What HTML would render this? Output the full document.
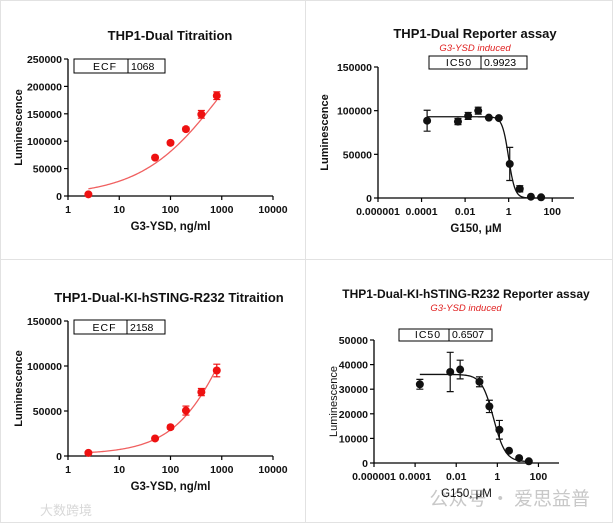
<!DOCTYPE html>
<html><head><meta charset="utf-8"><style>
html,body{margin:0;padding:0;background:#fff;}
svg{display:block;font-family:"Liberation Sans",Arial,sans-serif;}
</style></head><body>
<svg id="fig" width="613" height="523" viewBox="0 0 613 523" xmlns="http://www.w3.org/2000/svg">
<rect x="0.5" y="0.5" width="612" height="522" fill="#fff" stroke="#e2e2e2"/>
<line x1="305.5" y1="0" x2="305.5" y2="523" stroke="#e2e2e2"/>
<line x1="0" y1="259.5" x2="613" y2="259.5" stroke="#e2e2e2"/>
<text x="590" y="505" font-size="19" fill="#c8c8c8" text-anchor="end" font-family="'Noto Sans CJK SC',sans-serif">公众号 · 爱思益普</text>
<text x="40" y="515" font-size="13" fill="#d8d8d8" font-family="'Noto Sans CJK SC',sans-serif">大数跨境</text>
</svg>
<script>
// Panel 1: THP1-Dual Titraition
const p1X = [2.5, 50, 100, 200, 400, 800];
const p1Y = [3000, 70000, 97000, 122000, 149000, 183000];
const p1Err = [1500, 3000, 3000, 3500, 7000, 7000];
const p1Ticks = [0, 50000, 100000, 150000, 200000, 250000];
const p1XTicks = [1, 10, 100, 1000, 10000];
// Panel 2: THP1-Dual Reporter assay
const p2X = [0.00018, 0.0047, 0.0138, 0.04, 0.123, 0.355, 1.12, 3.24, 10.5, 30.9];
const p2Y = [88500, 87500, 94000, 100000, 92000, 91500, 39000, 10500, 1500, 800];
const p2Err = [12000, 3500, 4000, 4000, 1000, 1000, 19000, 3500, 500, 300];
const p2Ticks = [0, 50000, 100000, 150000];
const p2XTicks = [0.000001, 0.0001, 0.01, 1, 100];
// Panel 3: THP1-Dual-KI-hSTING-R232 Titraition
const p3X = [2.5, 50, 100, 200, 400, 800];
const p3Y = [3500, 19500, 32000, 50500, 71000, 95000];
const p3Err = [1000, 1500, 2000, 5000, 4000, 7000];
const p3Ticks = [0, 50000, 100000, 150000];
// Panel 4: THP1-Dual-KI-hSTING-R232 Reporter assay
const p4X = [0.00017, 0.0051, 0.0155, 0.135, 0.41, 1.26, 3.7, 11.5, 34];
const p4Y = [32000, 37000, 38000, 33000, 23000, 13500, 5000, 2000, 700];
const p4Err = [2000, 8000, 3800, 2000, 2500, 3800, 500, 300, 200];
const p4Ticks = [0, 10000, 20000, 30000, 40000, 50000];

const NS = 'http://www.w3.org/2000/svg';
const svg = document.getElementById('fig');
function mk(tag, attrs, parent, txt){
  const e = document.createElementNS(NS, tag);
  for (const k in attrs) e.setAttribute(k, attrs[k]);
  if (txt !== undefined) e.textContent = txt;
  (parent || svg).appendChild(e);
  return e;
}
function fmtX(v){
  if (v >= 1) return String(v);
  return v.toFixed(Math.round(-Math.log10(v)));
}
function panel(cfg){
  const g = mk('g', {});
  
  
  const xs = v => cfg.x0 + (Math.log10(v) - cfg.lmin) / (cfg.lmax - cfg.lmin) * (cfg.x1 - cfg.x0);
  const ys = v => cfg.yb - v / cfg.ymax * (cfg.yb - cfg.yt);
  const t = mk('text', {x: cfg.tx, y: cfg.ty, 'font-size': cfg.tfs || 13, 'font-weight': 'bold', 'text-anchor': 'middle', fill: '#111'}, g, cfg.title);
  
  
  if (cfg.sub){
    const s = mk('text', {x: cfg.tx, y: cfg.ty + 13, 'font-size': 9.5, 'font-style': 'italic', 'text-anchor': 'middle', fill: '#e02020'}, g, cfg.sub);
    
    
  }
  const ax = mk('path', {d: `M${cfg.x0},${cfg.yt}V${cfg.yb}H${cfg.x1}`, stroke: '#000', 'stroke-width': 1.3, fill: 'none'}, g);
  
  
  cfg.yticks.forEach(v => {
    const y = ys(v);
    mk('line', {x1: cfg.x0 - 4, x2: cfg.x0, y1: y, y2: y, stroke: '#000', 'stroke-width': 1.2}, g);
    const l = mk('text', {x: cfg.x0 - 6, y: y + 4, 'font-size': 10.5, 'font-weight': 'bold', 'text-anchor': 'end', fill: '#111'}, g, String(v));
    
    
  });
  cfg.xticks.forEach(v => {
    const x = xs(v);
    mk('line', {x1: x, x2: x, y1: cfg.yb, y2: cfg.yb + 4, stroke: '#000', 'stroke-width': 1.2}, g);
    const l = mk('text', {x: x, y: cfg.yb + 17, 'font-size': 10.5, 'font-weight': 'bold', 'text-anchor': 'middle', fill: '#111'}, g, fmtX(v));
    
    
  });
  const xl = mk('text', {x: (cfg.x0 + cfg.x1) / 2, y: cfg.yb + 34, 'font-size': 11.5, 'font-weight': cfg.xlw || 'bold', 'text-anchor': 'middle', fill: '#111'}, g, cfg.xlabel);
  
  
  const ym = (cfg.yt + cfg.yb) / 2;
  const yl = mk('text', {x: cfg.ylx, y: ym, 'font-size': 11, 'font-weight': cfg.ylw || 'bold', 'text-anchor': 'middle', fill: '#111', transform: `rotate(-90 ${cfg.ylx} ${ym})`}, g, 'Luminescence');
  
  
  const b = cfg.box;
  const bx = mk('rect', {x: b.x, y: b.y, width: b.w, height: b.h, fill: '#fff', stroke: '#000', 'stroke-width': 1}, g);
  
  
  mk('line', {x1: b.d, x2: b.d, y1: b.y, y2: b.y + b.h, stroke: '#000'}, g);
  mk('text', {x: (b.x + b.d) / 2 + 4, y: b.y + b.h - 3, 'font-size': 10.5, 'text-anchor': 'middle', 'letter-spacing': 1}, g, b.k);
  mk('text', {x: b.d + 3, y: b.y + b.h - 3, 'font-size': 10.5}, g, b.v);
  let d = '';
  for (let i = 0; i <= 120; i++){
    const lv = cfg.clo + (cfg.chi - cfg.clo) * i / 120;
    const xv = Math.pow(10, lv);
    d += (i ? 'L' : 'M') + xs(xv).toFixed(2) + ',' + ys(cfg.fit(xv)).toFixed(2);
  }
  const c = mk('path', {d: d, stroke: cfg.lc, 'stroke-width': 1.3, fill: 'none'}, g);
  
  
  cfg.px.forEach((xv, i) => {
    const x = xs(xv), y = ys(cfg.py[i]), e1 = ys(cfg.py[i] + cfg.pe[i]), e2 = ys(cfg.py[i] - cfg.pe[i]);
    const eb = mk('path', {d: `M${x},${e1}V${e2}M${x-3.5},${e1}H${x+3.5}M${x-3.5},${e2}H${x+3.5}`, stroke: cfg.pc, 'stroke-width': 1.2, fill: 'none'}, g);
    
    
    const p = mk('circle', {cx: x, cy: y, r: 4, fill: cfg.pc}, g);
    
    
  });
}
const hillUp = (top, bot, ec, h) => x => bot + (top - bot) / (1 + Math.pow(ec / x, h));
const hillDown = (top, bot, ic, h) => x => bot + (top - bot) / (1 + Math.pow(x / ic, h));

panel({name: 'panel-thp1-dual-titration', x0: 68, x1: 273, yt: 59, yb: 196, lmin: 0, lmax: 4, ymax: 250000,
  yticks: p1Ticks, xticks: p1XTicks, px: p1X, py: p1Y, pe: p1Err, pc: '#ee1111', lc: '#f06060',
  title: 'THP1-Dual Titraition', tx: 170, ty: 40, xlabel: 'G3-YSD, ng/ml', ylx: 22,
  box: {x: 74, y: 59, w: 91, h: 14, d: 128, k: 'ECF', v: '1068'},
  fit: hillUp(380000, 0, 1068, 0.55), clo: Math.log10(2.5), chi: Math.log10(800)});
panel({name: 'panel-thp1-dual-reporter', x0: 378, x1: 574, yt: 67, yb: 198, lmin: -6, lmax: 3, ymax: 150000,
  yticks: p2Ticks, xticks: p2XTicks, px: p2X, py: p2Y, pe: p2Err, pc: '#111', lc: '#111',
  title: 'THP1-Dual Reporter assay', tx: 475, ty: 38, sub: 'G3-YSD induced', xlabel: 'G150, μM', ylx: 328,
  box: {x: 429, y: 56, w: 98, h: 13, d: 481, k: 'IC50', v: '0.9923'},
  fit: hillDown(93000, 0, 0.9923, 3), clo: Math.log10(0.00018), chi: Math.log10(30.9)});
panel({name: 'panel-r232-titration', x0: 68, x1: 273, yt: 321, yb: 456, lmin: 0, lmax: 4, ymax: 150000,
  yticks: p3Ticks, xticks: p1XTicks, px: p3X, py: p3Y, pe: p3Err, pc: '#ee1111', lc: '#f06060',
  title: 'THP1-Dual-KI-hSTING-R232 Titraition', tx: 169, ty: 302, xlabel: 'G3-YSD, ng/ml', ylx: 22,
  box: {x: 74, y: 320, w: 91, h: 14, d: 127, k: 'ECF', v: '2158'},
  fit: hillUp(300000, 2000, 2158, 0.75), clo: Math.log10(2.5), chi: Math.log10(800)});
panel({name: 'panel-r232-reporter', x0: 374, x1: 559, yt: 340, yb: 463, lmin: -6, lmax: 3, ymax: 50000, tfs: 12,
  yticks: p4Ticks, xticks: p2XTicks, px: p4X, py: p4Y, pe: p4Err, pc: '#111', lc: '#111',
  title: 'THP1-Dual-KI-hSTING-R232 Reporter assay', tx: 466, ty: 298, sub: 'G3-YSD induced', xlabel: 'G150, μM', ylx: 337, ylw: 'normal', xlw: 'normal',
  box: {x: 399, y: 329, w: 93, h: 12, d: 449, k: 'IC50', v: '0.6507'},
  fit: hillDown(36000, 500, 0.6507, 1.5), clo: Math.log10(0.00017), chi: Math.log10(34)});
</script>
</body></html>
